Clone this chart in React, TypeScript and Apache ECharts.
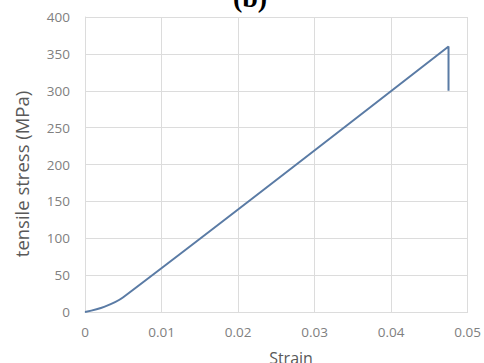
import React, { useEffect, useRef } from "react";
import * as echarts from "echarts";

// Stress–strain curve of the tensile test
const strain = [0, 0.0025, 0.005, 0.0475, 0.0475];
const stress = [0, 7, 20, 360, 300];

const xTicks = { min: 0, max: 0.05, interval: 0.01 };
const yTicks = { min: 0, max: 400, interval: 50 };

const panelLabel = "(b)";
const xTitle = "Strain";
const yTitle = "tensile stress (MPa)";

export default function App() {
  const ref = useRef<HTMLDivElement>(null);

  useEffect(() => {
    if (!ref.current) return;
    const chart = echarts.init(ref.current, undefined, { renderer: "svg" });
    const labelStyle = { color: "#808080", fontSize: 13.5, fontFamily: "Open Sans" };
    const gridLine = { show: true, lineStyle: { color: "#dcdcdc", width: 1 } };
    chart.setOption({
      animation: false,
      backgroundColor: "#fff",
      graphic: [
        {
          type: "text",
          x: 250,
          y: -3,
          style: {
            text: panelLabel,
            textAlign: "center",
            textVerticalAlign: "middle",
            font: "bold 28px 'Liberation Serif'",
            fill: "#000",
          },
        },
        {
          type: "text",
          x: 21,
          y: 174,
          rotation: Math.PI / 2,
          style: {
            text: yTitle,
            textAlign: "center",
            textVerticalAlign: "middle",
            font: "18.5px 'Open Sans'",
            fill: "#595959",
          },
        },
        {
          type: "text",
          x: 291,
          y: 358,
          style: {
            text: xTitle,
            textAlign: "center",
            textVerticalAlign: "middle",
            font: "16px 'Open Sans'",
            fill: "#595959",
          },
        },
      ],
      grid: { left: 85, right: 11, top: 17, bottom: 51 },
      xAxis: {
        type: "value",
        min: xTicks.min,
        max: xTicks.max,
        interval: xTicks.interval,
        axisLine: { show: true, lineStyle: { color: "#dcdcdc" } },
        axisTick: { show: false },
        axisLabel: { ...labelStyle, margin: 13 },
        splitLine: gridLine,
      },
      yAxis: {
        type: "value",
        min: yTicks.min,
        max: yTicks.max,
        interval: yTicks.interval,
        axisLine: { show: true, lineStyle: { color: "#dcdcdc" } },
        axisTick: { show: false },
        axisLabel: { ...labelStyle, margin: 15 },
        splitLine: gridLine,
      },
      series: [
        {
          type: "line",
          data: strain.map((s, i) => [s, stress[i]]),
          showSymbol: false,
          smooth: 0.3,
          lineStyle: { color: "#5a7ba5", width: 2 },
        },
      ],
    });
    return () => chart.dispose();
  }, []);

  return (
    <div
      ref={ref}
      style={{ position: "fixed", left: 0, top: 0, width: 484, height: 363 }}
    />
  );
}
